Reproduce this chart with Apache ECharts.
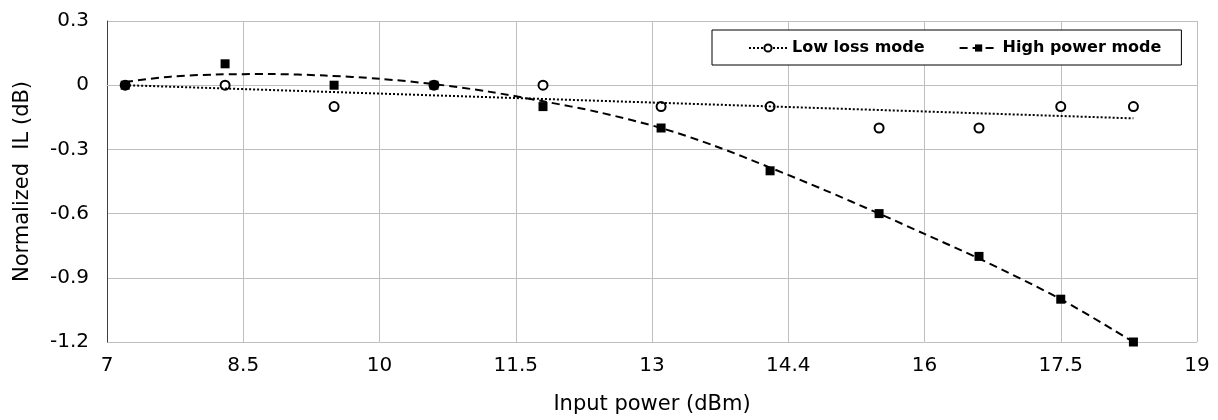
<!DOCTYPE html>
<html>
<head>
<meta charset="utf-8">
<script src="https://cdn.jsdelivr.net/npm/echarts@6/dist/echarts.min.js"></script>
<style>
  html, body { margin: 0; padding: 0; background: #fff; }
  #chart { width: 1218px; height: 420px; }
</style>
</head>
<body>
<div id="chart"></div>
<script>
// measured points
const inputPower = [7.2, 8.3, 9.5, 10.6, 11.8, 13.1, 14.3, 15.5, 16.6, 17.5, 18.3];
const lowLossIL = [0, 0, -0.1, 0, 0, -0.1, -0.1, -0.2, -0.2, -0.1, -0.1];
const highPowerIL = [0, 0.1, 0, 0, -0.1, -0.2, -0.4, -0.6, -0.8, -1.0, -1.2];

// trendlines
const lowTrendX = [7.2, 18.3];
const lowTrendY = [0.0, -0.155];
const highTrendX = [7.2, 7.7, 8.2, 8.8, 9.4, 10.0, 10.6, 11.2, 11.8, 12.4, 13.1, 13.7, 14.3, 14.9, 15.5, 16.0, 16.6, 17.5, 18.3];
const highTrendY = [0.015, 0.04, 0.05, 0.052, 0.045, 0.03, 0.005, -0.03, -0.075, -0.125, -0.2, -0.285, -0.385, -0.49, -0.6, -0.695, -0.81, -1.0, -1.2];

const xTickLabels = ['7', '8.5', '10', '11.5', '13', '14.4', '16', '17.5', '19'];

const pairs = (xs, ys) => xs.map((x, i) => [x, ys[i]]);

const chart = echarts.init(document.getElementById('chart'));

const tickFont = { fontFamily: 'DejaVu Sans, sans-serif', fontSize: 20, color: '#000' };
const titleFont = { fontFamily: 'DejaVu Sans, sans-serif', fontSize: 21, color: '#000' };

const option = {
  animation: false,
  grid: { left: 107, right: 21, top: 21, bottom: 78, containLabel: false },
  legend: {
    left: 712,
    top: 30,
    padding: [10, 20, 9, 36],
    borderColor: '#000',
    borderWidth: 1,
    backgroundColor: '#fff',
    itemWidth: 38,
    itemHeight: 9,
    itemGap: 34,
    textStyle: { fontFamily: 'DejaVu Sans, sans-serif', fontWeight: 'bold', fontSize: 16, color: '#000' },
    data: [
      { name: 'Low loss mode', lineStyle: { opacity: 1, width: 2, type: [2, 2] } },
      { name: 'High power mode', lineStyle: { opacity: 1, width: 2, type: [8, 5] } }
    ]
  },
  xAxis: {
    type: 'value',
    min: 7,
    max: 19,
    interval: 1.5,
    name: 'Input power (dBm)',
    nameLocation: 'middle',
    nameGap: 52,
    nameTextStyle: titleFont,
    axisLine: { lineStyle: { color: '#bfbfbf' } },
    axisTick: { show: false },
    axisLabel: Object.assign({
      margin: 14,
      showMinLabel: true,
      showMaxLabel: true,
      formatter: v => xTickLabels[Math.round((v - 7) / 1.5)]
    }, tickFont),
    splitLine: { show: true, lineStyle: { color: '#bfbfbf' } }
  },
  yAxis: {
    type: 'value',
    min: -1.2,
    max: 0.3,
    interval: 0.3,
    name: 'Normalized  IL (dB)',
    nameLocation: 'middle',
    nameGap: 74,
    nameTextStyle: titleFont,
    axisLine: { show: true, lineStyle: { color: '#404040' } },
    axisTick: { show: false },
    axisLabel: Object.assign({
      margin: 18,
      formatter: v => String(Math.round(v * 10) / 10)
    }, tickFont),
    splitLine: { show: true, lineStyle: { color: '#bfbfbf' } }
  },
  series: [
    {
      name: 'Low loss mode',
      type: 'line',
      data: pairs(inputPower, lowLossIL),
      symbol: 'emptyCircle',
      symbolSize: 9,
      showAllSymbol: true,
      lineStyle: { opacity: 0, color: '#000', type: [2, 2] },
      itemStyle: { color: '#000', borderWidth: 2 },
      z: 2
    },
    {
      name: 'High power mode',
      type: 'line',
      data: pairs(inputPower, highPowerIL),
      symbol: 'rect',
      symbolSize: 9,
      showAllSymbol: true,
      lineStyle: { opacity: 0, color: '#000', type: [8, 5] },
      itemStyle: { color: '#000' },
      z: 3
    },
    {
      name: 'lowTrend',
      type: 'line',
      data: pairs(lowTrendX, lowTrendY),
      symbol: 'none',
      lineStyle: { color: '#000', width: 2, type: [2, 2] },
      silent: true,
      z: 4
    },
    {
      name: 'highTrend',
      type: 'line',
      data: pairs(highTrendX, highTrendY),
      symbol: 'none',
      smooth: 0.3,
      lineStyle: { color: '#000', width: 2, type: [8, 5] },
      silent: true,
      z: 4
    }
  ]
};

chart.setOption(option);
</script>
</body>
</html>
